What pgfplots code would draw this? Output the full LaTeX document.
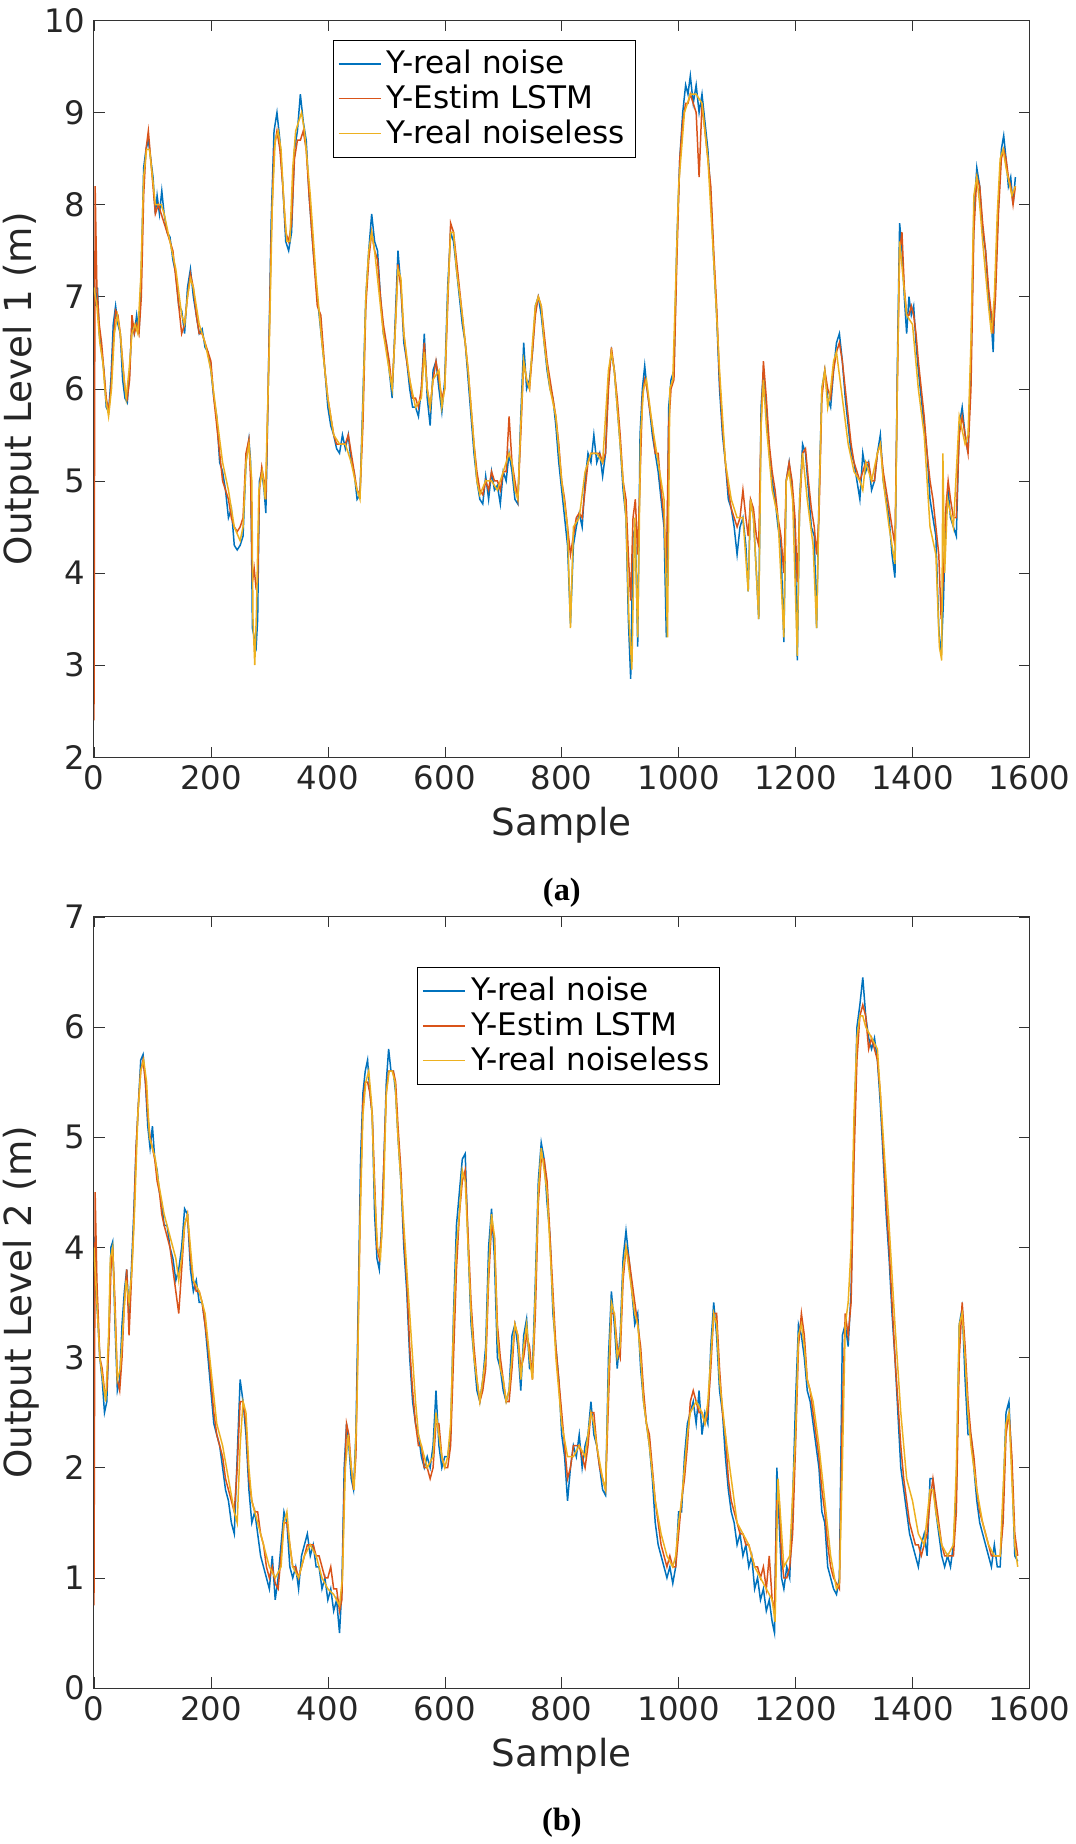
\documentclass[border=0pt]{standalone}
\usepackage{pgfplots}
\pgfplotsset{compat=1.18}
\usepackage{fontspec}
\setmainfont{DejaVu Sans}
\newfontfamily\capfont{Liberation Serif}
\definecolor{mb}{rgb}{0,0.447,0.741}
\definecolor{mr}{rgb}{0.85,0.325,0.098}
\definecolor{my}{rgb}{0.929,0.694,0.125}
\pgfplotsset{myax/.style={scale only axis, width=13.22cm, xmin=0,xmax=1600,
 tick align=inside, axis line style={black!80}, tick style={black!80},
 ticklabel style={font=\fontsize{13}{15}\selectfont, text=black!85},
 label style={font=\fontsize{15}{17}\selectfont, text=black!85},
 /pgf/number format/assume math mode=true, /pgf/number format/1000 sep={}, scaled ticks=false,
 xtick={0,200,...,1600}, xlabel={Sample},
 y label style={at={(axis description cs:-0.078,0.5)}, anchor=center},
 legend style={font=\fontsize{12.5}{14}\selectfont, draw=black, cells={anchor=west}, inner sep=2pt, row sep=-1pt},
 legend cell align=left}}
\begin{document}
\begin{tikzpicture}
\useasboundingbox (0,0) rectangle (15.204,26.06);
\begin{axis}[myax, at={(1.328cm,15.36cm)}, anchor=south west, height=10.41cm, ymin=2, ymax=10, ytick={2,3,...,10},
 ylabel={Output Level 1 (m)}, legend style={at={(0.255,0.974)},anchor=north west}]
\addplot[mb, line width=0.6pt] coordinates {(0,7.2)(3,6.9)(6,7.1)(9,6.6)(13,6.4)(17,6.2)(21,5.8)(25,5.75)(29,6.1)(33,6.7)(37,6.9)(41,6.7)(45,6.6)(49,6.1)(53,5.9)(57,5.85)(61,6.2)(65,6.7)(69,6.6)(73,6.8)(77,6.6)(81,7.3)(85,8.4)(89,8.6)(93,8.7)(97,8.5)(101,8.3)(105,7.9)(108,8.1)(112,7.9)(116,8.15)(120,7.9)(125,7.7)(130,7.65)(135,7.4)(140,7.25)(145,6.9)(150,6.85)(155,6.6)(160,7.1)(165,7.3)(170,7.0)(175,6.8)(180,6.6)(185,6.65)(190,6.45)(195,6.4)(200,6.2)(205,5.9)(210,5.7)(215,5.2)(220,5.1)(225,4.9)(230,4.6)(235,4.7)(240,4.3)(245,4.25)(250,4.3)(255,4.4)(260,5.2)(265,5.45)(268,5.2)(271,3.4)(274,3.3)(277,3.15)(280,3.5)(283,5.0)(287,5.1)(291,4.9)(294,4.65)(298,6.0)(303,7.8)(308,8.8)(313,9.0)(318,8.7)(323,8.2)(328,7.6)(333,7.5)(338,7.7)(343,8.6)(348,8.8)(353,9.2)(358,8.9)(363,8.7)(368,8.1)(375,7.5)(382,7.0)(390,6.5)(395,6.2)(400,5.8)(405,5.6)(410,5.5)(415,5.35)(420,5.3)(425,5.5)(430,5.35)(435,5.5)(440,5.2)(445,5.1)(450,4.8)(455,4.85)(460,5.9)(465,7.0)(470,7.5)(475,7.9)(480,7.6)(485,7.5)(490,7.0)(495,6.6)(500,6.5)(505,6.2)(510,5.9)(515,6.7)(520,7.5)(525,7.1)(530,6.5)(535,6.3)(540,6.0)(545,5.8)(550,5.8)(555,5.7)(560,6.0)(565,6.6)(570,5.9)(575,5.6)(580,6.2)(585,6.3)(590,6.0)(595,5.75)(600,6.1)(605,7.1)(610,7.7)(615,7.6)(620,7.3)(625,7.0)(630,6.7)(635,6.5)(640,6.1)(645,5.7)(650,5.3)(655,5.0)(660,4.8)(665,4.75)(670,5.05)(675,4.8)(680,5.1)(685,4.9)(690,4.95)(695,4.75)(700,5.1)(705,5.0)(710,5.3)(715,5.1)(720,4.8)(725,4.75)(730,5.7)(735,6.5)(740,6.0)(745,6.1)(750,6.4)(755,6.9)(760,7.0)(765,6.8)(770,6.5)(775,6.2)(780,6.0)(785,5.9)(790,5.6)(795,5.2)(800,4.9)(805,4.6)(810,4.3)(815,3.45)(820,4.3)(825,4.5)(830,4.65)(835,4.5)(840,5.0)(845,5.3)(850,5.2)(855,5.5)(860,5.2)(865,5.3)(870,5.05)(875,5.3)(880,6.1)(885,6.4)(890,6.2)(895,5.8)(900,5.4)(905,4.9)(910,4.6)(914,3.5)(918,2.85)(922,4.4)(926,4.5)(930,3.2)(934,5.5)(938,6.0)(942,6.25)(946,6.0)(950,5.8)(955,5.5)(960,5.3)(965,5.1)(970,4.8)(975,4.5)(979,3.3)(983,5.8)(987,6.1)(992,6.2)(997,7.6)(1002,8.5)(1007,9.0)(1012,9.3)(1016,9.2)(1020,9.4)(1025,9.1)(1030,9.3)(1035,9.0)(1040,9.2)(1045,8.9)(1050,8.6)(1055,8.1)(1060,7.4)(1065,6.8)(1070,6.0)(1075,5.5)(1080,5.2)(1085,4.8)(1090,4.7)(1095,4.5)(1100,4.2)(1105,4.5)(1110,4.6)(1115,4.3)(1119,3.8)(1123,4.8)(1128,4.6)(1133,4.0)(1137,3.5)(1141,5.8)(1145,6.2)(1150,5.8)(1155,5.3)(1160,5.0)(1165,4.8)(1170,4.5)(1175,4.3)(1180,3.25)(1184,5.0)(1189,5.2)(1194,4.9)(1199,4.5)(1203,3.05)(1207,4.8)(1212,5.4)(1217,5.3)(1222,4.9)(1227,4.5)(1232,4.4)(1236,3.4)(1240,4.8)(1245,6.0)(1250,6.2)(1255,5.9)(1260,5.8)(1265,6.2)(1270,6.5)(1275,6.6)(1280,6.3)(1285,5.9)(1290,5.6)(1295,5.3)(1300,5.2)(1305,5.0)(1310,4.8)(1315,5.3)(1320,5.1)(1325,5.2)(1330,4.9)(1335,5.0)(1340,5.3)(1345,5.5)(1350,5.0)(1355,4.8)(1360,4.6)(1365,4.2)(1370,3.95)(1374,6.2)(1378,7.8)(1382,7.5)(1386,7.0)(1390,6.6)(1394,7.0)(1398,6.8)(1402,6.9)(1406,6.5)(1410,6.2)(1415,5.9)(1420,5.6)(1425,5.3)(1430,4.8)(1435,4.6)(1440,4.4)(1445,3.4)(1449,3.1)(1453,3.7)(1457,4.6)(1461,4.9)(1465,4.6)(1470,4.5)(1475,4.4)(1480,5.6)(1485,5.8)(1490,5.5)(1495,5.3)(1500,6.3)(1505,7.9)(1510,8.4)(1515,8.2)(1520,7.7)(1525,7.5)(1530,7.0)(1535,6.7)(1538,6.4)(1542,7.2)(1547,8.0)(1552,8.6)(1556,8.75)(1560,8.5)(1564,8.2)(1568,8.3)(1572,8.0)(1576,8.3)};
\addlegendentry{Y-real noise}
\addplot[mr, line width=0.6pt] coordinates {(0,2.4)(2,8.2)(5,7.1)(9,6.7)(13,6.5)(17,6.2)(21,5.9)(25,5.75)(29,6.0)(33,6.5)(37,6.85)(41,6.8)(45,6.6)(49,6.3)(53,6.0)(57,5.9)(61,6.1)(65,6.8)(69,6.6)(73,6.7)(77,6.6)(81,7.0)(85,8.1)(89,8.6)(93,8.8)(97,8.5)(101,8.2)(105,7.9)(110,8.0)(115,7.9)(120,7.8)(125,7.7)(130,7.6)(135,7.5)(140,7.2)(145,6.9)(150,6.6)(155,6.7)(160,7.0)(165,7.25)(170,7.1)(175,6.8)(180,6.6)(185,6.6)(190,6.5)(195,6.4)(200,6.3)(205,5.9)(210,5.6)(215,5.3)(220,5.0)(225,4.9)(230,4.8)(235,4.6)(240,4.5)(245,4.45)(250,4.5)(255,4.6)(260,5.3)(265,5.45)(268,5.0)(271,3.9)(274,4.05)(277,3.85)(280,3.9)(283,4.9)(287,5.15)(291,5.0)(294,4.8)(298,6.0)(303,7.6)(308,8.6)(313,8.8)(318,8.6)(323,8.2)(328,7.7)(333,7.6)(338,7.8)(343,8.5)(348,8.7)(353,8.7)(358,8.8)(363,8.6)(368,8.1)(375,7.5)(382,6.9)(388,6.8)(395,6.2)(400,5.9)(405,5.7)(410,5.5)(415,5.4)(420,5.4)(425,5.4)(430,5.4)(435,5.5)(440,5.3)(445,5.1)(450,4.9)(455,4.85)(460,5.6)(465,6.9)(470,7.4)(475,7.7)(480,7.5)(485,7.4)(490,7.0)(495,6.7)(500,6.5)(505,6.3)(510,6.0)(515,6.6)(520,7.35)(525,7.1)(530,6.6)(535,6.3)(540,6.1)(545,5.9)(550,5.9)(555,5.8)(560,6.0)(565,6.5)(570,6.0)(575,5.8)(580,6.1)(585,6.3)(590,6.1)(595,5.9)(600,6.0)(605,6.9)(610,7.8)(615,7.7)(620,7.4)(625,7.1)(630,6.8)(635,6.5)(640,6.2)(645,5.8)(650,5.4)(655,5.1)(660,4.9)(665,4.85)(670,5.0)(675,4.9)(680,5.1)(685,5.0)(690,5.0)(695,4.9)(700,5.1)(705,5.1)(710,5.7)(715,5.2)(720,5.0)(725,4.8)(730,5.5)(735,6.3)(740,6.1)(745,6.0)(750,6.4)(755,6.8)(760,7.0)(765,6.9)(770,6.6)(775,6.3)(780,6.1)(785,5.9)(790,5.7)(795,5.4)(800,5.0)(805,4.8)(810,4.5)(815,4.2)(820,4.4)(825,4.6)(830,4.65)(835,4.6)(840,4.9)(845,5.2)(850,5.3)(855,5.3)(860,5.3)(865,5.3)(870,5.2)(875,5.3)(880,6.0)(885,6.45)(890,6.2)(895,5.9)(900,5.5)(905,5.0)(910,4.8)(914,4.2)(918,3.7)(922,4.6)(926,4.8)(930,4.2)(934,5.0)(938,5.9)(942,6.1)(946,6.0)(950,5.8)(955,5.6)(960,5.3)(965,5.3)(970,4.9)(975,4.6)(979,4.0)(983,5.6)(987,6.0)(992,6.1)(997,7.4)(1002,8.5)(1007,8.9)(1012,9.1)(1016,9.1)(1020,9.2)(1025,9.1)(1030,9.0)(1035,8.3)(1040,9.1)(1045,8.8)(1050,8.5)(1055,8.2)(1060,7.5)(1065,6.9)(1070,6.1)(1075,5.6)(1080,5.2)(1085,4.9)(1090,4.7)(1095,4.6)(1100,4.5)(1105,4.6)(1110,4.9)(1115,4.6)(1119,4.4)(1123,4.8)(1128,4.7)(1133,4.4)(1137,4.3)(1141,5.6)(1145,6.3)(1150,5.9)(1155,5.4)(1160,5.1)(1165,4.9)(1170,4.6)(1175,4.4)(1180,4.0)(1184,5.0)(1189,5.2)(1194,5.0)(1199,4.6)(1203,3.9)(1207,4.7)(1212,5.3)(1217,5.35)(1222,5.0)(1227,4.7)(1232,4.5)(1236,4.2)(1240,4.6)(1245,5.9)(1250,6.2)(1255,6.0)(1260,5.9)(1265,6.2)(1270,6.4)(1275,6.5)(1280,6.3)(1285,6.0)(1290,5.7)(1295,5.4)(1300,5.2)(1305,5.1)(1310,5.0)(1315,5.1)(1320,5.2)(1325,5.2)(1330,5.0)(1335,5.0)(1340,5.3)(1345,5.4)(1350,5.1)(1355,4.9)(1360,4.7)(1365,4.5)(1370,4.3)(1374,6.0)(1378,7.5)(1382,7.7)(1386,7.1)(1390,6.8)(1394,6.8)(1398,6.9)(1402,6.8)(1406,6.6)(1410,6.3)(1415,6.0)(1420,5.7)(1425,5.3)(1430,5.0)(1435,4.8)(1440,4.5)(1445,4.2)(1449,3.5)(1453,4.0)(1457,4.7)(1461,5.0)(1465,4.8)(1470,4.6)(1475,4.6)(1480,5.5)(1485,5.7)(1490,5.5)(1495,5.3)(1500,6.0)(1505,7.7)(1510,8.3)(1515,8.2)(1520,7.8)(1525,7.5)(1530,7.1)(1535,6.8)(1538,6.6)(1542,7.0)(1547,7.9)(1552,8.5)(1556,8.6)(1560,8.5)(1564,8.3)(1568,8.2)(1572,8.0)(1576,8.2)};
\addlegendentry{Y-Estim LSTM}
\addplot[my, line width=0.6pt] coordinates {(0,7.1)(5,6.9)(10,6.5)(15,6.3)(20,5.9)(25,5.7)(30,6.0)(35,6.6)(40,6.8)(45,6.6)(50,6.2)(55,5.9)(60,6.2)(65,6.6)(70,6.7)(75,6.6)(80,7.2)(85,8.3)(90,8.6)(95,8.6)(100,8.3)(105,8.0)(110,8.0)(115,8.0)(120,7.9)(130,7.6)(140,7.3)(150,6.8)(155,6.7)(160,7.0)(165,7.2)(170,7.1)(180,6.7)(190,6.5)(200,6.2)(210,5.7)(220,5.2)(230,4.9)(240,4.5)(250,4.35)(255,4.5)(260,5.2)(265,5.4)(270,5.0)(272,3.5)(275,3.0)(278,3.6)(282,4.9)(288,5.1)(293,4.8)(300,6.5)(305,8.0)(310,8.7)(315,8.8)(320,8.6)(325,8.0)(330,7.6)(335,7.6)(340,8.4)(345,8.8)(350,8.9)(355,9.0)(360,8.8)(370,8.1)(380,7.2)(390,6.5)(400,5.9)(410,5.5)(420,5.4)(430,5.4)(440,5.2)(450,4.9)(455,4.8)(460,5.8)(465,7.0)(470,7.5)(475,7.7)(480,7.5)(490,6.9)(495,6.6)(505,6.2)(510,6.0)(515,6.6)(520,7.3)(525,7.2)(530,6.6)(540,6.1)(550,5.8)(560,5.9)(565,6.4)(570,6.0)(575,5.8)(580,6.1)(590,6.2)(595,5.8)(600,6.0)(605,7.0)(610,7.7)(615,7.7)(620,7.3)(630,6.8)(640,6.2)(650,5.4)(655,5.0)(660,4.85)(670,5.0)(680,5.0)(690,4.9)(700,5.1)(710,5.3)(715,5.2)(720,4.9)(725,4.8)(730,5.6)(735,6.3)(740,6.1)(745,6.0)(750,6.5)(755,6.9)(760,7.0)(765,6.9)(770,6.5)(780,6.0)(790,5.7)(800,5.0)(810,4.5)(815,3.4)(820,4.5)(830,4.6)(840,5.1)(850,5.3)(860,5.3)(870,5.2)(880,6.2)(885,6.4)(890,6.2)(900,5.4)(910,4.6)(915,3.5)(920,2.95)(925,4.6)(930,3.3)(935,5.5)(940,6.0)(945,6.1)(955,5.6)(965,5.2)(975,4.8)(981,3.3)(985,6.0)(990,6.1)(1000,8.2)(1010,9.0)(1020,9.2)(1030,9.2)(1040,9.1)(1050,8.5)(1060,7.4)(1070,6.2)(1080,5.2)(1090,4.8)(1100,4.6)(1110,4.6)(1119,3.8)(1123,4.8)(1128,4.6)(1137,3.5)(1141,5.6)(1145,6.1)(1150,5.6)(1160,4.9)(1170,4.6)(1180,3.3)(1184,5.0)(1189,5.1)(1195,4.8)(1203,3.1)(1207,4.8)(1212,5.3)(1220,4.8)(1230,4.3)(1236,3.4)(1240,4.7)(1245,6.0)(1250,6.2)(1255,5.8)(1260,6.0)(1265,6.3)(1270,6.4)(1280,5.9)(1290,5.4)(1300,5.1)(1310,5.0)(1315,4.9)(1320,5.2)(1330,5.0)(1340,5.3)(1345,5.4)(1350,5.0)(1360,4.5)(1370,4.1)(1374,6.0)(1378,7.6)(1384,7.2)(1390,6.8)(1400,6.7)(1410,6.0)(1420,5.5)(1425,5.0)(1430,4.5)(1440,4.2)(1446,3.2)(1450,3.05)(1452,5.3)(1455,4.0)(1460,4.8)(1470,4.5)(1480,5.7)(1490,5.4)(1495,5.5)(1500,6.5)(1505,8.1)(1510,8.3)(1515,8.0)(1520,7.6)(1530,6.9)(1535,6.6)(1540,7.0)(1545,7.9)(1550,8.5)(1555,8.6)(1560,8.4)(1570,8.1)(1576,8.2)};
\addlegendentry{Y-real noiseless}
\end{axis}
\node[font=\capfont\bfseries\fontsize{13}{15}\selectfont] at (7.94,13.44) {(a)};
\begin{axis}[myax, at={(1.328cm,2.204cm)}, anchor=south west, height=10.9cm, ymin=0, ymax=7, ytick={0,1,...,7},
 ylabel={Output Level 2 (m)}, legend style={at={(0.345,0.935)},anchor=north west}]
\addplot[mb, line width=0.6pt] coordinates {(0,4.1)(3,3.6)(6,3.4)(10,3.0)(14,2.8)(18,2.5)(22,2.6)(26,3.3)(29,4.0)(32,4.05)(36,3.3)(40,2.7)(44,2.8)(48,3.3)(52,3.6)(56,3.8)(60,3.4)(64,3.8)(68,4.3)(72,4.9)(76,5.3)(80,5.7)(84,5.75)(88,5.5)(92,5.1)(96,4.9)(100,5.1)(104,4.8)(108,4.7)(112,4.5)(116,4.4)(120,4.2)(125,4.2)(130,4.0)(135,3.9)(140,3.7)(145,3.8)(150,4.0)(155,4.35)(160,4.3)(165,3.8)(170,3.6)(175,3.7)(180,3.5)(185,3.5)(190,3.3)(195,3.0)(200,2.7)(205,2.4)(210,2.3)(215,2.2)(220,2.0)(225,1.8)(230,1.7)(235,1.5)(240,1.4)(245,2.1)(250,2.8)(255,2.6)(260,2.3)(265,1.8)(270,1.5)(275,1.6)(280,1.4)(285,1.2)(290,1.1)(295,1.0)(300,0.9)(305,1.2)(310,0.8)(315,1.0)(320,1.3)(325,1.6)(330,1.5)(335,1.1)(340,1.0)(345,1.1)(350,0.9)(355,1.2)(360,1.3)(365,1.4)(370,1.2)(375,1.3)(380,1.1)(385,1.1)(390,0.9)(395,1.0)(400,0.8)(405,0.9)(410,0.7)(415,0.8)(420,0.5)(424,0.9)(428,2.0)(432,2.4)(436,2.2)(440,1.9)(444,1.8)(448,2.3)(452,3.5)(456,4.8)(460,5.4)(464,5.6)(468,5.7)(472,5.4)(476,5.2)(480,4.3)(484,3.9)(488,3.8)(492,4.2)(496,4.8)(500,5.5)(504,5.8)(508,5.6)(512,5.6)(516,5.4)(520,5.0)(525,4.6)(530,4.0)(535,3.6)(540,3.0)(545,2.6)(550,2.4)(555,2.3)(560,2.1)(565,2.0)(570,2.1)(575,2.0)(580,2.2)(585,2.7)(590,2.2)(595,2.0)(600,2.1)(605,2.1)(610,2.3)(615,3.4)(620,4.2)(625,4.5)(630,4.8)(635,4.85)(640,4.0)(645,3.3)(650,3.0)(655,2.7)(660,2.6)(665,2.8)(670,3.1)(675,4.0)(680,4.35)(685,3.9)(690,3.0)(695,2.9)(700,2.7)(705,2.6)(710,2.7)(715,3.2)(720,3.3)(725,3.1)(730,2.7)(735,3.2)(740,3.35)(745,2.9)(750,2.9)(755,3.7)(760,4.6)(765,4.95)(770,4.8)(775,4.4)(780,4.1)(785,3.4)(790,3.1)(795,2.8)(800,2.3)(805,2.1)(810,1.7)(815,2.0)(820,2.2)(825,2.1)(830,2.3)(835,2.0)(840,2.2)(845,2.3)(850,2.6)(855,2.3)(860,2.2)(865,2.0)(870,1.8)(875,1.75)(880,3.0)(885,3.6)(890,3.3)(895,2.9)(900,3.2)(905,3.9)(910,4.15)(915,3.9)(920,3.6)(925,3.3)(930,3.4)(935,2.9)(940,2.6)(945,2.4)(950,2.2)(955,1.9)(960,1.5)(965,1.3)(970,1.2)(975,1.1)(980,1.0)(985,1.1)(990,0.95)(995,1.1)(1000,1.6)(1005,1.6)(1010,2.1)(1015,2.4)(1020,2.5)(1025,2.6)(1030,2.4)(1035,2.7)(1040,2.3)(1045,2.5)(1050,2.4)(1055,3.1)(1060,3.5)(1065,3.2)(1070,2.7)(1075,2.5)(1080,2.1)(1085,1.8)(1090,1.6)(1095,1.5)(1100,1.3)(1105,1.4)(1110,1.2)(1115,1.3)(1120,1.1)(1125,1.2)(1130,0.9)(1135,1.0)(1140,0.8)(1145,0.9)(1150,0.7)(1155,0.8)(1160,0.6)(1164,0.5)(1168,2.0)(1172,1.5)(1176,1.0)(1180,0.9)(1185,1.1)(1190,1.0)(1195,1.7)(1200,2.6)(1205,3.3)(1210,3.2)(1215,3.0)(1220,2.7)(1225,2.6)(1230,2.4)(1235,2.2)(1240,2.0)(1245,1.6)(1250,1.5)(1255,1.1)(1260,1.0)(1265,0.9)(1270,0.85)(1275,1.0)(1280,3.2)(1285,3.3)(1290,3.1)(1295,3.6)(1300,5.0)(1305,6.0)(1310,6.2)(1315,6.45)(1320,6.1)(1325,5.9)(1330,5.8)(1335,5.9)(1340,5.7)(1345,5.3)(1350,4.8)(1355,4.3)(1360,3.9)(1365,3.4)(1370,3.0)(1375,2.5)(1380,2.0)(1385,1.8)(1390,1.6)(1395,1.4)(1400,1.3)(1405,1.2)(1410,1.1)(1415,1.3)(1420,1.4)(1425,1.2)(1430,1.9)(1435,1.9)(1440,1.6)(1445,1.4)(1450,1.2)(1455,1.1)(1460,1.2)(1465,1.1)(1470,1.3)(1475,1.8)(1480,3.3)(1485,3.45)(1490,2.8)(1495,2.3)(1500,2.3)(1505,2.0)(1510,1.7)(1515,1.5)(1520,1.4)(1525,1.3)(1530,1.2)(1535,1.1)(1540,1.3)(1545,1.1)(1550,1.1)(1555,1.7)(1560,2.5)(1565,2.6)(1570,2.0)(1575,1.2)(1580,1.15)};
\addlegendentry{Y-real noise}
\addplot[mr, line width=0.6pt] coordinates {(0,0.75)(2,4.5)(5,3.7)(10,3.0)(14,2.9)(18,2.7)(22,2.7)(26,3.2)(29,3.8)(32,4.0)(36,3.5)(40,2.8)(44,2.7)(48,3.0)(52,3.5)(56,3.8)(60,3.2)(64,3.7)(68,4.2)(72,4.9)(76,5.3)(80,5.6)(84,5.7)(88,5.5)(92,5.2)(96,5.0)(100,4.9)(104,4.8)(108,4.6)(112,4.5)(116,4.3)(120,4.2)(125,4.1)(130,4.0)(135,3.8)(140,3.6)(145,3.4)(150,3.8)(155,4.2)(160,4.3)(165,3.9)(170,3.7)(175,3.6)(180,3.6)(185,3.5)(190,3.3)(195,3.1)(200,2.8)(205,2.5)(210,2.3)(215,2.2)(220,2.1)(225,1.9)(230,1.8)(235,1.7)(240,1.6)(245,2.0)(250,2.6)(255,2.6)(260,2.4)(265,1.9)(270,1.7)(275,1.6)(280,1.6)(285,1.4)(290,1.3)(295,1.1)(300,1.0)(305,1.1)(310,0.95)(315,0.9)(320,1.2)(325,1.5)(330,1.5)(335,1.3)(340,1.1)(345,1.1)(350,1.0)(355,1.1)(360,1.2)(365,1.3)(370,1.3)(375,1.3)(380,1.2)(385,1.2)(390,1.1)(395,1.0)(400,1.0)(405,1.1)(410,0.9)(415,0.9)(420,0.7)(424,0.8)(428,1.8)(432,2.4)(436,2.3)(440,2.0)(444,1.8)(448,2.1)(452,3.3)(456,4.5)(460,5.3)(464,5.5)(468,5.5)(472,5.4)(476,5.2)(480,4.6)(484,4.0)(488,3.9)(492,4.1)(496,4.8)(500,5.4)(504,5.6)(508,5.6)(512,5.6)(516,5.5)(520,5.1)(525,4.7)(530,4.1)(535,3.7)(540,3.1)(545,2.7)(550,2.4)(555,2.2)(560,2.2)(565,2.0)(570,2.0)(575,1.9)(580,2.0)(585,2.4)(590,2.4)(595,2.1)(600,2.0)(605,2.0)(610,2.2)(615,3.0)(620,3.8)(625,4.3)(630,4.6)(635,4.7)(640,4.1)(645,3.5)(650,3.1)(655,2.8)(660,2.6)(665,2.7)(670,2.9)(675,3.7)(680,4.2)(685,4.1)(690,3.3)(695,3.0)(700,2.8)(705,2.6)(710,2.6)(715,2.9)(720,3.3)(725,3.2)(730,2.9)(735,3.0)(740,3.2)(745,3.1)(750,2.8)(755,3.4)(760,4.4)(765,4.8)(770,4.8)(775,4.6)(780,4.1)(785,3.6)(790,3.1)(795,2.8)(800,2.5)(805,2.2)(810,1.9)(815,2.0)(820,2.2)(825,2.2)(830,2.2)(835,2.1)(840,2.0)(845,2.2)(850,2.5)(855,2.5)(860,2.2)(865,2.0)(870,1.9)(875,1.8)(880,2.6)(885,3.4)(890,3.4)(895,3.1)(900,3.0)(905,3.7)(910,4.0)(915,3.9)(920,3.7)(925,3.5)(930,3.3)(935,3.1)(940,2.7)(945,2.4)(950,2.3)(955,2.0)(960,1.7)(965,1.5)(970,1.3)(975,1.2)(980,1.1)(985,1.2)(990,1.1)(995,1.1)(1000,1.4)(1005,1.7)(1010,1.9)(1015,2.2)(1020,2.6)(1025,2.7)(1030,2.6)(1035,2.5)(1040,2.5)(1045,2.4)(1050,2.5)(1055,2.9)(1060,3.4)(1065,3.4)(1070,2.9)(1075,2.5)(1080,2.3)(1085,1.9)(1090,1.7)(1095,1.6)(1100,1.5)(1105,1.4)(1110,1.4)(1115,1.3)(1120,1.3)(1125,1.2)(1130,1.1)(1135,1.1)(1140,1.0)(1145,1.1)(1150,0.9)(1155,1.2)(1160,0.8)(1164,0.7)(1168,1.7)(1172,1.7)(1176,1.2)(1180,1.0)(1185,1.0)(1190,1.1)(1195,1.4)(1200,2.2)(1205,3.1)(1210,3.4)(1215,3.2)(1220,2.8)(1225,2.7)(1230,2.5)(1235,2.3)(1240,2.1)(1245,1.8)(1250,1.6)(1255,1.3)(1260,1.1)(1265,1.0)(1270,0.95)(1275,0.9)(1280,2.5)(1285,3.4)(1290,3.2)(1295,3.5)(1300,4.8)(1305,5.7)(1310,6.1)(1315,6.2)(1320,6.1)(1325,5.8)(1330,5.9)(1335,5.8)(1340,5.7)(1345,5.4)(1350,4.9)(1355,4.4)(1360,4.0)(1365,3.5)(1370,3.0)(1375,2.6)(1380,2.2)(1385,1.9)(1390,1.7)(1395,1.5)(1400,1.4)(1405,1.3)(1410,1.3)(1415,1.2)(1420,1.3)(1425,1.4)(1430,1.7)(1435,1.9)(1440,1.7)(1445,1.5)(1450,1.3)(1455,1.2)(1460,1.2)(1465,1.2)(1470,1.2)(1475,1.6)(1480,3.0)(1485,3.5)(1490,3.1)(1495,2.6)(1500,2.3)(1505,2.1)(1510,1.8)(1515,1.6)(1520,1.5)(1525,1.4)(1530,1.3)(1535,1.2)(1540,1.2)(1545,1.2)(1550,1.2)(1555,1.5)(1560,2.3)(1565,2.5)(1570,2.1)(1575,1.4)(1580,1.2)};
\addlegendentry{Y-Estim LSTM}
\addplot[my, line width=0.6pt] coordinates {(0,4.0)(5,3.5)(10,3.0)(15,2.8)(20,2.6)(25,3.2)(28,3.9)(32,4.0)(36,3.4)(40,2.8)(45,2.9)(50,3.3)(55,3.7)(60,3.5)(65,3.8)(70,4.4)(75,5.2)(80,5.6)(85,5.7)(90,5.5)(95,5.0)(100,4.9)(105,4.8)(110,4.6)(120,4.3)(130,4.1)(140,3.9)(145,3.7)(150,3.9)(155,4.2)(160,4.3)(165,4.0)(170,3.7)(180,3.6)(190,3.4)(200,2.9)(210,2.4)(220,2.2)(230,1.9)(240,1.6)(245,1.5)(250,2.2)(255,2.6)(260,2.5)(265,2.0)(270,1.7)(280,1.5)(290,1.3)(300,1.1)(310,1.0)(320,1.1)(325,1.5)(330,1.6)(335,1.3)(340,1.1)(350,1.0)(360,1.2)(370,1.3)(380,1.2)(390,1.0)(400,0.9)(410,0.85)(420,0.75)(425,1.0)(430,2.0)(435,2.3)(440,2.0)(445,1.8)(450,2.6)(455,4.2)(460,5.2)(465,5.5)(470,5.6)(475,5.3)(480,4.5)(485,4.0)(490,3.9)(495,4.4)(500,5.4)(505,5.6)(510,5.6)(515,5.5)(520,5.0)(530,4.2)(540,3.4)(550,2.6)(555,2.3)(560,2.2)(570,2.0)(580,2.1)(585,2.5)(590,2.3)(595,2.1)(600,2.0)(605,2.1)(610,2.4)(615,3.3)(620,4.0)(625,4.3)(630,4.7)(635,4.6)(640,4.0)(645,3.4)(650,3.0)(655,2.8)(660,2.6)(665,2.8)(670,3.0)(675,3.8)(680,4.3)(685,4.1)(690,3.2)(695,2.9)(700,2.8)(705,2.6)(710,2.7)(715,3.0)(720,3.3)(725,3.2)(730,2.8)(735,3.1)(740,3.3)(745,3.0)(750,2.8)(755,3.6)(760,4.5)(765,4.9)(770,4.7)(775,4.5)(780,4.0)(785,3.5)(790,3.0)(795,2.7)(800,2.4)(810,2.1)(820,2.1)(830,2.2)(840,2.1)(850,2.5)(855,2.4)(860,2.2)(870,1.9)(875,1.8)(880,2.8)(885,3.5)(890,3.4)(895,3.0)(900,3.1)(905,3.8)(910,4.0)(915,3.8)(920,3.6)(925,3.4)(930,3.3)(935,3.0)(940,2.6)(950,2.2)(960,1.7)(970,1.4)(980,1.2)(990,1.1)(995,1.2)(1000,1.5)(1005,1.7)(1010,2.0)(1015,2.3)(1020,2.5)(1030,2.6)(1040,2.5)(1045,2.4)(1050,2.6)(1055,3.0)(1060,3.4)(1065,3.3)(1070,2.8)(1080,2.3)(1090,1.9)(1100,1.5)(1110,1.4)(1120,1.3)(1130,1.1)(1140,1.0)(1150,0.9)(1160,0.8)(1165,0.6)(1170,1.9)(1175,1.5)(1180,1.1)(1190,1.2)(1200,2.3)(1205,3.2)(1210,3.3)(1215,3.1)(1220,2.8)(1230,2.6)(1240,2.2)(1250,1.7)(1260,1.2)(1270,0.9)(1275,0.95)(1280,2.0)(1285,3.3)(1290,3.5)(1295,4.0)(1300,5.2)(1305,5.9)(1310,6.1)(1315,6.1)(1320,6.0)(1330,5.9)(1340,5.8)(1350,5.0)(1360,4.2)(1370,3.3)(1380,2.5)(1390,1.9)(1400,1.7)(1410,1.4)(1420,1.3)(1430,1.8)(1435,1.8)(1440,1.6)(1450,1.3)(1460,1.2)(1470,1.3)(1475,2.0)(1480,3.3)(1485,3.4)(1490,3.0)(1495,2.5)(1500,2.2)(1510,1.8)(1520,1.5)(1530,1.3)(1540,1.2)(1550,1.2)(1555,1.8)(1560,2.4)(1565,2.5)(1570,1.9)(1575,1.3)(1580,1.1)};
\addlegendentry{Y-real noiseless}
\end{axis}
\node[font=\capfont\bfseries\fontsize{13}{15}\selectfont] at (7.94,0.297) {(b)};
\end{tikzpicture}
\end{document}
